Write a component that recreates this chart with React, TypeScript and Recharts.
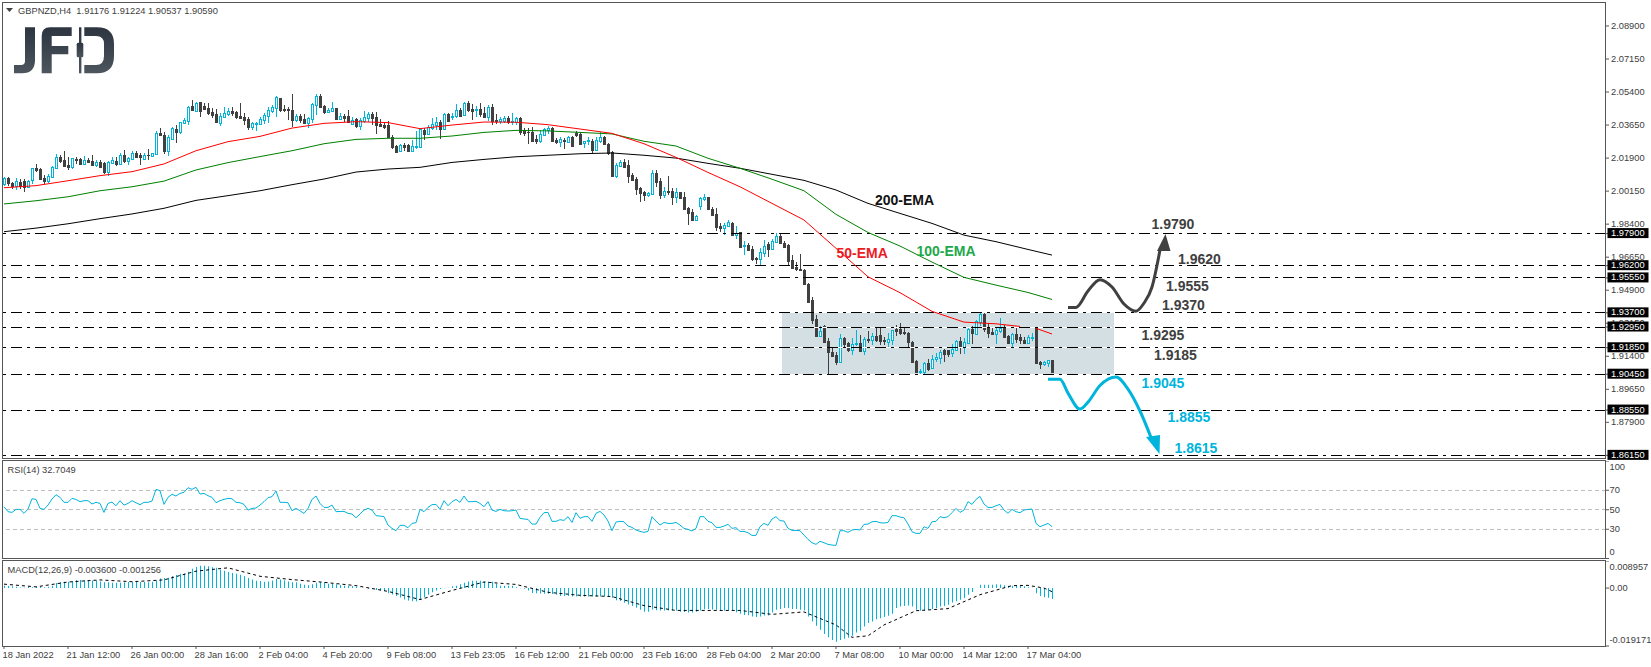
import { ComposedChart, Bar, Line, XAxis, YAxis, ReferenceLine, ReferenceArea } from "recharts";

const opens = [
  2.0051,2.0086,2.0058,2.0042,2.0065,2.0070,2.0038,2.0072,2.0137,2.0134,
  2.0082,2.0068,2.0090,2.0139,2.0196,2.0178,2.0153,2.0144,2.0187,2.0187,
  2.0159,2.0180,2.0173,2.0153,2.0169,2.0162,2.0118,2.0166,2.0176,2.0159,
  2.0206,2.0175,2.0185,2.0217,2.0205,2.0183,2.0208,2.0203,2.0213,2.0321,
  2.0312,2.0228,2.0291,2.0344,2.0328,2.0378,2.0388,2.0466,2.0441,2.0487,
  2.0466,2.0455,2.0434,2.0422,2.0378,2.0406,2.0424,2.0440,2.0434,2.0411,
  2.0408,2.0397,2.0355,2.0374,2.0371,2.0394,2.0415,2.0438,2.0455,2.0507,
  2.0448,2.0448,2.0443,2.0392,2.0415,2.0395,2.0374,2.0399,2.0471,2.0521,
  2.0466,2.0436,2.0440,2.0455,2.0399,2.0413,2.0413,2.0371,2.0397,2.0362,
  2.0385,2.0402,2.0426,2.0408,2.0371,2.0364,2.0365,2.0300,2.0256,2.0228,
  2.0259,2.0259,2.0226,2.0251,2.0251,2.0339,2.0316,2.0351,2.0365,2.0379,
  2.0342,2.0424,2.0406,2.0413,2.0445,2.0420,2.0480,2.0450,2.0445,2.0450,
  2.0431,2.0408,2.0461,2.0390,2.0388,2.0388,2.0404,2.0385,2.0383,2.0402,
  2.0335,2.0330,2.0330,2.0289,2.0280,2.0312,2.0339,2.0348,2.0286,2.0275,
  2.0286,2.0277,2.0302,2.0321,2.0318,2.0268,2.0279,2.0282,2.0233,2.0282,
  2.0302,2.0266,2.0222,2.0095,2.0150,2.0169,2.0153,2.0100,2.0077,2.0031,
  2.0010,1.9996,2.0000,2.0109,2.0067,1.9994,2.0014,2.0014,1.9985,2.0008,
  1.9985,1.9925,1.9906,1.9862,1.9936,1.9975,1.9984,1.9918,1.9894,1.9830,
  1.9819,1.9830,1.9848,1.9782,1.9796,1.9722,1.9731,1.9706,1.9662,1.9657,
  1.9689,1.9734,1.9708,1.9743,1.9777,1.9742,1.9729,1.9650,1.9611,1.9604,
  1.9597,1.9524,1.9436,1.9335,1.9249,1.9302,1.9222,1.9164,1.9146,1.9111,
  1.9235,1.9208,1.9175,1.9205,1.9208,1.9170,1.9231,1.9228,1.9249,1.9252,
  1.9226,1.9217,1.9228,1.9286,1.9286,1.9268,1.9261,1.9215,1.9114,1.9061,
  1.9058,1.9102,1.9079,1.9128,1.9130,1.9171,1.9171,1.9155,1.9173,1.9221,
  1.9189,1.9212,1.9284,1.9259,1.9323,1.9363,1.9291,1.9268,1.9259,1.9274,
  1.9295,1.9249,1.9210,1.9258,1.9240,1.9226,1.9212,1.9236,1.9291,1.9109,
  1.9100,1.9106,1.91176,
];

const highs = [
  2.0091,2.0091,2.0065,2.0086,2.0077,2.0079,2.0074,2.0139,2.0159,2.0136,
  2.0100,2.0106,2.0150,2.0212,2.0206,2.0228,2.0198,2.0192,2.0198,2.0192,
  2.0201,2.0189,2.0205,2.0180,2.0180,2.0167,2.0176,2.0198,2.0198,2.0215,
  2.0233,2.0198,2.0228,2.0229,2.0215,2.0219,2.0238,2.0219,2.0335,2.0348,
  2.0330,2.0312,2.0357,2.0365,2.0383,2.0401,2.0466,2.0498,2.0489,2.0489,
  2.0484,2.0480,2.0454,2.0448,2.0427,2.0459,2.0454,2.0459,2.0441,2.0480,
  2.0427,2.0410,2.0383,2.0383,2.0410,2.0431,2.0459,2.0471,2.0519,2.0510,
  2.0471,2.0463,2.0528,2.0424,2.0424,2.0424,2.0410,2.0480,2.0528,2.0530,
  2.0471,2.0454,2.0486,2.0457,2.0431,2.0424,2.0445,2.0410,2.0404,2.0401,
  2.0440,2.0436,2.0433,2.0436,2.0399,2.0378,2.0385,2.0311,2.0259,2.0265,
  2.0268,2.0265,2.0286,2.0335,2.0348,2.0351,2.0365,2.0404,2.0406,2.0392,
  2.0427,2.0427,2.0427,2.0477,2.0454,2.0487,2.0493,2.0477,2.0466,2.0480,
  2.0463,2.0471,2.0477,2.0424,2.0410,2.0413,2.0413,2.0427,2.0410,2.0410,
  2.0348,2.0348,2.0353,2.0312,2.0339,2.0348,2.0360,2.0353,2.0295,2.0304,
  2.0295,2.0307,2.0307,2.0335,2.0330,2.0282,2.0300,2.0289,2.0300,2.0330,
  2.0307,2.0272,2.0226,2.0162,2.0180,2.0183,2.0180,2.0109,2.0091,2.0038,
  2.0017,2.0012,2.0127,2.0127,2.0083,2.0035,2.0095,2.0030,2.0030,2.0012,
  2.0008,1.9932,1.9918,1.9888,1.9982,1.9999,1.9985,1.9929,1.9924,1.9844,
  1.9844,1.9862,1.9853,1.9830,1.9800,1.9750,1.9738,1.9724,1.9667,1.9711,
  1.9756,1.9745,1.9759,1.9791,1.9791,1.9752,1.9734,1.9676,1.9641,1.9680,
  1.9600,1.9526,1.9455,1.9358,1.9302,1.9305,1.9235,1.9185,1.9164,1.9258,
  1.9240,1.9217,1.9235,1.9279,1.9252,1.9243,1.9274,1.9261,1.9291,1.9291,
  1.9240,1.9263,1.9280,1.9305,1.9314,1.9291,1.9267,1.9220,1.9120,1.9072,
  1.9111,1.9128,1.9146,1.9155,1.9173,1.9181,1.9173,1.9206,1.9226,1.9243,
  1.9235,1.9291,1.9302,1.9330,1.9369,1.9369,1.9314,1.9293,1.9288,1.9341,
  1.9305,1.9252,1.9261,1.9288,1.9256,1.9243,1.9252,1.9265,1.9293,1.9114,
  1.9114,1.9120,1.91224,
];

const lows = [
  2.0045,2.0045,2.0030,2.0024,2.0024,2.0012,2.0030,2.0054,2.0118,2.0074,
  2.0053,2.0056,2.0086,2.0136,2.0162,2.0141,2.0127,2.0136,2.0162,2.0153,
  2.0153,2.0162,2.0148,2.0144,2.0136,2.0106,2.0095,2.0162,2.0148,2.0153,
  2.0162,2.0153,2.0180,2.0192,2.0153,2.0180,2.0180,2.0201,2.0210,2.0304,
  2.0215,2.0203,2.0286,2.0268,2.0321,2.0371,2.0365,2.0440,2.0436,2.0410,
  2.0445,2.0418,2.0401,2.0379,2.0360,2.0401,2.0410,2.0413,2.0401,2.0395,
  2.0365,2.0342,2.0342,2.0335,2.0365,2.0372,2.0374,2.0431,2.0406,2.0436,
  2.0436,2.0392,2.0353,2.0383,2.0374,2.0374,2.0353,2.0374,2.0418,2.0454,
  2.0422,2.0433,2.0436,2.0395,2.0392,2.0383,2.0374,2.0365,2.0353,2.0335,
  2.0378,2.0383,2.0365,2.0318,2.0357,2.0344,2.0295,2.0236,2.0219,2.0222,
  2.0228,2.0222,2.0222,2.0238,2.0242,2.0289,2.0312,2.0339,2.0339,2.0293,
  2.0339,2.0383,2.0388,2.0404,2.0410,2.0415,2.0436,2.0392,2.0406,2.0406,
  2.0406,2.0388,2.0365,2.0371,2.0374,2.0374,2.0371,2.0364,2.0365,2.0312,
  2.0304,2.0265,2.0277,2.0263,2.0268,2.0307,2.0318,2.0272,2.0265,2.0251,
  2.0238,2.0272,2.0251,2.0304,2.0263,2.0247,2.0259,2.0215,2.0224,2.0272,
  2.0259,2.0206,2.0088,2.0084,2.0141,2.0141,2.0056,2.0070,1.9994,1.9959,
  1.9964,1.9985,1.9994,2.0035,1.9973,1.9976,1.9994,1.9941,1.9950,1.9976,
  1.9915,1.9835,1.9858,1.9856,1.9915,1.9964,1.9915,1.9883,1.9800,1.9795,
  1.9779,1.9823,1.9777,1.9759,1.9717,1.9676,1.9699,1.9646,1.9628,1.9618,
  1.9664,1.9667,1.9703,1.9738,1.9731,1.9715,1.9618,1.9600,1.9593,1.9588,
  1.9517,1.9420,1.9314,1.9240,1.9243,1.9212,1.9043,1.9137,1.9097,1.9107,
  1.9182,1.9164,1.9143,1.9196,1.9164,1.9146,1.9212,1.9196,1.9217,1.9203,
  1.9199,1.9190,1.9199,1.9249,1.9249,1.9252,1.9182,1.9102,1.9049,1.9040,
  1.9049,1.9067,1.9072,1.9107,1.9097,1.9114,1.9137,1.9137,1.9171,1.9155,
  1.9150,1.9206,1.9208,1.9256,1.9302,1.9270,1.9235,1.9249,1.9205,1.9261,
  1.9235,1.9208,1.9182,1.9208,1.9205,1.9205,1.9208,1.9224,1.9097,1.9072,
  1.9088,1.9084,1.90537,
];

const closes = [
  2.0086,2.0056,2.0042,2.0068,2.0042,2.0035,2.0068,2.0136,2.0127,2.0079,
  2.0068,2.0095,2.0143,2.0194,2.0175,2.0148,2.0144,2.0189,2.0180,2.0160,
  2.0178,2.0169,2.0155,2.0169,2.0141,2.0114,2.0167,2.0180,2.0159,2.0206,
  2.0173,2.0191,2.0217,2.0198,2.0198,2.0206,2.0205,2.0215,2.0323,2.0314,
  2.0228,2.0302,2.0350,2.0328,2.0379,2.0392,2.0463,2.0445,2.0484,2.0440,
  2.0452,2.0427,2.0420,2.0381,2.0413,2.0431,2.0440,2.0431,2.0406,2.0402,
  2.0392,2.0353,2.0374,2.0378,2.0395,2.0418,2.0443,2.0459,2.0514,2.0445,
  2.0443,2.0445,2.0394,2.0413,2.0392,2.0378,2.0401,2.0475,2.0519,2.0459,
  2.0434,2.0447,2.0454,2.0399,2.0411,2.0402,2.0379,2.0392,2.0360,2.0390,
  2.0406,2.0424,2.0402,2.0365,2.0362,2.0353,2.0300,2.0247,2.0224,2.0259,
  2.0251,2.0228,2.0254,2.0256,2.0344,2.0316,2.0353,2.0371,2.0381,2.0344,
  2.0424,2.0388,2.0413,2.0443,2.0413,2.0482,2.0445,2.0441,2.0448,2.0424,
  2.0410,2.0461,2.0385,2.0387,2.0395,2.0404,2.0383,2.0388,2.0402,2.0330,
  2.0325,2.0326,2.0282,2.0280,2.0318,2.0342,2.0349,2.0280,2.0275,2.0289,
  2.0279,2.0302,2.0256,2.0314,2.0266,2.0279,2.0286,2.0235,2.0288,2.0302,
  2.0266,2.0215,2.0095,2.0152,2.0169,2.0144,2.0095,2.0074,2.0028,2.0005,
  1.9994,2.0005,2.0111,2.0065,1.9994,2.0014,2.0010,1.9985,2.0010,1.9980,
  1.9918,1.9901,1.9862,1.9883,1.9978,1.9985,1.9918,1.9890,1.9826,1.9821,
  1.9833,1.9851,1.9784,1.9793,1.9720,1.9727,1.9703,1.9653,1.9657,1.9690,
  1.9726,1.9708,1.9749,1.9777,1.9738,1.9720,1.9644,1.9606,1.9602,1.9597,
  1.9523,1.9429,1.9332,1.9249,1.9274,1.9217,1.9164,1.9143,1.9111,1.9235,
  1.9205,1.9175,1.9205,1.9208,1.9170,1.9229,1.9226,1.9249,1.9224,1.9222,
  1.9219,1.9229,1.9277,1.9275,1.9263,1.9263,1.9214,1.9111,1.9058,1.9063,
  1.9102,1.9075,1.9128,1.9135,1.9165,1.9150,1.9153,1.9180,1.9221,1.9187,
  1.9215,1.9284,1.9263,1.9326,1.9363,1.9284,1.9261,1.9258,1.9277,1.9288,
  1.9242,1.9212,1.9256,1.9233,1.9228,1.9212,1.9242,1.9240,1.9102,1.9100,
  1.9107,1.9118,1.90590,
];

// EMAs
const emaBars = [
  0,8,16,24,32,40,48,56,64,72,80,88,96,104,112,120,128,136,144,152,160,168,176,184,192,200,208,216,224,232,240,248,
];
const ema50 = [
  2.0033,2.0044,2.0070,2.0097,2.0118,2.0159,2.0229,2.0277,2.0305,2.0349,2.0374,2.0383,2.0378,2.0346,2.0365,2.0381,
  2.0380,2.0367,2.0344,2.0321,2.0266,2.0194,2.0114,2.0038,1.9950,1.9862,1.9712,1.9561,1.9477,1.9378,1.9321,1.9312,
];
const ema50EndBars = [248, 254];
const ema50End = [1.9312, 1.9298];
const ema50TailBars = [258, 262];
const ema50Tail = [1.9288, 1.9258];
const ema100 = [
  1.9947,1.9964,1.9985,2.0017,2.0038,2.0068,2.0127,2.0166,2.0198,2.0229,2.0266,2.0289,2.0295,2.0295,2.0307,2.0326,
  2.0337,2.0334,2.0326,2.0318,2.0279,2.0254,2.0189,2.0136,2.0078,2.0017,1.9892,1.9796,1.9724,1.9639,1.9558,1.9517,
];
const ema200 = [
  1.9800,1.9819,1.9842,1.9869,1.9894,1.9924,1.9966,1.9991,2.0017,2.0049,2.0079,2.0116,2.0132,2.0141,2.0167,2.0183,
  2.0197,2.0205,2.0213,2.0217,2.0205,2.0190,2.0162,2.0136,2.0104,2.0072,2.0021,1.9950,1.9897,1.9844,1.9782,1.9747,
];
const emaLastBars = [256, 262];
const ema100Last = [1.9478, 1.9441];
const ema200Last = [1.9706, 1.9676];

const rsi = [
  53.1,48,47.3,50.4,50.4,46.3,50.7,61.3,60.6,51.4,
  50.4,54.8,61,65.4,62.7,57.6,57.6,61.7,60.6,58.3,
  59.3,59.3,55.9,57.6,56.5,47.3,56.5,57.9,54.1,59.3,
  54.8,56.5,59.3,57.2,55.2,57.6,57.6,58.9,70.9,69.5,
  55.5,62.7,65.8,64.1,66.8,67.8,72.6,70.9,73,66.1,
  66.8,64.4,62.7,57.2,59.3,60.6,61.7,61.3,57.6,57.2,
  55.5,49.7,51.4,51.8,54.8,58.3,62.4,63.4,69.2,57.6,
  57.6,57.2,49,51.4,49,46.3,51.4,60.6,64.1,56.5,
  52.4,52.4,54.8,48,48.3,48.3,46.3,45.6,41.8,45.6,
  49.7,51.4,49.7,43.9,43.5,42.9,34.3,30.9,28.5,34,
  34,31.6,36,36.7,50.4,48,52.4,55.2,55.5,50.4,
  59.3,54.1,58.3,60.6,57.6,64.1,58.3,58.3,58.6,56.5,
  53.1,58.3,49.7,48.3,50.4,49,48.7,49,49.7,41.2,
  40.5,40.1,35.3,35.3,42.2,47,47.3,38.1,38.1,39.8,
  39.1,42.9,37,47,41.2,42.9,42.9,38.1,46.3,48.3,
  44.6,38.4,28.5,37.4,38.1,37.7,33.3,31.9,29.2,27.8,
  26.8,27.8,42.9,38.4,34.3,37,36,36,37,34.3,
  30.9,29.9,28.2,30.9,42.9,42.9,38.1,36.7,31.9,31.9,
  33.3,35,30.9,31.6,27.8,27.8,26.4,23.7,23.7,32.6,
  36,34,40.5,42.9,38.8,38.4,30.9,28.8,28.8,28.5,
  24,19.6,16.2,14.5,17.6,16.2,14.5,13.8,13.4,28.5,
  28.5,26.8,29.2,29.9,29.2,35,35.3,37.7,38.1,36.7,
  36.4,37,43.9,43.9,42.5,41.8,35.3,27.5,25.8,25.8,
  32.6,30.9,37.7,38.1,42.9,41.8,42.9,47,51.4,47.3,
  49.7,58.3,55.5,60.6,63.7,55.9,52.4,52.4,54.1,55.5,
  49.7,46.3,50.4,48,47,49.7,50.4,50.7,36,32.6,
  34.3,36,32.7,
];

const macdHist = [
  .0008,.0007,.0006,.0004,.0002,.0001,.0004,.0003,.0004,.0004,.0003,.0004,.0008,
  .0017,.0020,.0021,.0021,.0023,.0027,.0027,.0027,.0025,.0025,
  .0025,.0022,.0019,.0019,.0018,.0018,.0018,.0019,.0020,.0020,
  .0020,.0020,.0020,.0019,.0021,.0025,.0032,.0033,.0034,.0040,
  .0043,.0047,.0048,.0054,.0064,.0070,.0074,.0074,.0072,.0069,
  .0067,.0061,.0057,.0053,.0050,.0047,.0044,.0039,.0033,.0028,
  .0024,.0023,.0021,.0022,.0025,.0030,.0028,.0025,.0022,.0019,
  .0019,.0014,.0011,.0009,.0013,.0018,.0019,.0019,.0014,.0014,
  .0013,.0010,.0008,.0008,.0007,.0004,.0001,0,
  -.0002,-.0003,-.0006,-.0008,-.0010,-.0017,-.0021,-.0026,-.0031,-.0038,
  -.0041,-.0044,-.0044,-.0039,-.0030,-.0022,-.0014,-.0008,-.0003,-.0001,
  .0001,.0006,.0008,.0013,.0018,.0022,.0024,.0024,.0024,.0022,.0021,.0021,.0014,
  .0008,.0008,.0008,.0008,.0003,-.0001,
  -.0002,-.0008,-.0016,-.0017,-.0018,-.0019,-.0019,-.0020,-.0022,-.0026,
  -.0026,-.0026,-.0028,-.0028,-.0028,-.0028,-.0028,-.0028,-.0028,-.0028,
  -.0028,-.0029,-.0032,-.0040,-.0043,-.0049,-.0054,-.0059,-.0065,-.0072,
  -.0078,-.0078,-.0071,-.0073,-.0074,-.0074,-.0074,-.0074,-.0074,-.0078,
  -.0079,-.0081,-.0081,-.0078,-.0074,-.0070,-.0069,-.0071,-.0072,-.0074,
  -.0075,-.0074,-.0074,-.0080,-.0085,-.0089,-.0090,-.0094,-.0096,-.0094,
  -.0091,-.0091,-.0081,-.0072,-.0069,-.0066,-.0066,-.0069,-.0069,-.0072,
  -.0074,-.0094,-.0111,-.0125,-.0138,-.0152,-.0163,-.0172,-.0178,-.0172,
  -.0168,-.0164,-.0158,-.0147,-.0141,-.0127,-.0116,-.0111,-.0103,-.0100,
  -.0096,-.0092,-.0085,-.0066,-.0061,-.0059,-.0058,-.0061,-.0072,-.0075,
  -.0074,-.0072,-.0069,-.0066,-.0061,-.0059,-.0055,-.0048,-.0044,-.0039,
  -.0033,-.0022,-.0013,0,.0011,.0011,.0011,.0011,.0013,.0012,
  .0009,.0008,.0008,.0008,.0007,.0006,.0003,.0001,-.0017,-.0026,
  -.0030,-.0032,-.0036,
];

const signalBars = [
  0,8,16,24,32,40,48,56,64,72,80,88,96,104,112,120,128,136,144,152,160,168,176,184,192,200,208,212,216,220,228,236,244,252,256,260,262,
];
const macdSignal = [
  .0013,.0004,.0020,.0027,.0021,.0027,.0056,.0067,.0039,.0028,.0019,.0008,-.0011,-.0038,-.0008,.0020,
  .0012,-.0014,-.0024,-.0028,-.0058,-.0074,-.0074,-.0074,-.0087,-.0079,-.0122,-.0163,-.0158,-.0122,
  -.0075,-.0068,-.0022,.0008,.0009,0,-.0012,
];

// hand drawn scenario arrows
const upArrowBars = [266, 268, 271, 274, 277, 280, 283, 285, 287, 289];
const upArrow = [1.9399, 1.9399, 1.9486, 1.9546, 1.9507, 1.9417, 1.9379, 1.9422, 1.9507, 1.9703];
const downArrowBars = [261, 264, 266, 269, 271, 274, 278, 281, 284, 287];
const downArrow = [1.9018, 1.9018, 1.8945, 1.8860, 1.8897, 1.8985, 1.9030, 1.8966, 1.8850, 1.8696];

const levels = [1.979, 1.962, 1.9555, 1.937, 1.9295, 1.9185, 1.9045, 1.8855, 1.8615];
const priceTicks = [
  2.089, 2.0715, 2.054, 2.0365, 2.019, 2.0015, 1.984, 1.9665, 1.949, 1.9315, 1.914, 1.8965, 1.879,
];
const rsiTicks = [100, 70, 50, 30, 0];
const rsiGuides = [70, 50, 30];
const macdTicks = [0.008957, 0, -0.019171];
const macdLabels = ["0.008957", "0.00", "-0.019171"];
const timeBars = [0, 16, 32, 48, 64, 80, 96, 112, 128, 144, 160, 176, 192, 208, 224, 240, 256];
const timeLabels = [
  "18 Jan 2022", "21 Jan 12:00", "26 Jan 00:00", "28 Jan 16:00", "2 Feb 04:00", "4 Feb 20:00",
  "9 Feb 08:00", "13 Feb 23:05", "16 Feb 12:00", "21 Feb 00:00", "23 Feb 16:00", "28 Feb 04:00",
  "2 Mar 20:00", "7 Mar 08:00", "10 Mar 00:00", "14 Mar 12:00", "17 Mar 04:00",
];

const BAR_SLOTS = 401;
const BLUE = "#00b4dc";
const DARK = "#404040";
const AXIS = "#555555";
const FONT = "'Liberation Sans', Arial, sans-serif";

function pick(bars: number[], values: number[], i: number) {
  const at = bars.indexOf(i);
  return at < 0 ? null : values[at];
}

const rows = Array.from({ length: BAR_SLOTS }, (_, i) => ({
  i,
  open: opens[i] ?? null,
  high: highs[i] ?? null,
  low: lows[i] ?? null,
  close: closes[i] ?? null,
  range: i < opens.length ? [lows[i], highs[i]] : null,
  ema50: pick(emaBars, ema50, i) ?? pick(ema50EndBars, ema50End, i),
  ema50Tail: pick(ema50TailBars, ema50Tail, i),
  ema100: pick(emaBars, ema100, i) ?? pick(emaLastBars, ema100Last, i),
  ema200: pick(emaBars, ema200, i) ?? pick(emaLastBars, ema200Last, i),
  rsi: rsi[i] ?? null,
  hist: macdHist[i] ?? null,
  signal: pick(signalBars, macdSignal, i),
  up: pick(upArrowBars, upArrow, i),
  down: pick(downArrowBars, downArrow, i),
}));

function Candle(props: any) {
  const { x, y, width, height, payload } = props;
  if (!payload || payload.open == null) return null;
  const { open, close, high, low } = payload;
  const span = high - low || 1;
  const toY = (v: number) => Math.round(y + ((high - v) / span) * height);
  const bull = close >= open;
  const color = bull ? BLUE : DARK;
  const left = Math.round(x);
  const top = toY(Math.max(open, close));
  const bottom = toY(Math.min(open, close));
  return (
    <g shapeRendering="crispEdges">
      <rect x={left + 1} y={Math.round(y)} width={1} height={Math.max(1, Math.round(height))} fill={color} />
      {bull ? (
        <rect x={left + 0.5} y={top + 0.5} width={2} height={Math.max(1, bottom - top)} fill="#fff" stroke={color} strokeWidth={1} />
      ) : (
        <rect x={left} y={top} width={3} height={Math.max(1, bottom - top + 1)} fill={color} />
      )}
    </g>
  );
}

function PriceTick(props: any) {
  const { x, y, payload } = props;
  const boxed = levels.includes(payload.value);
  const label = payload.value.toFixed(5);
  if (boxed) {
    return (
      <g>
        <rect x={x - 3.5} y={y - 5.5} width={41} height={10} fill="#000" />
        <text x={x} y={y - 0.5} fontSize={9.3} fontFamily={FONT} fill="#fff" dominantBaseline="central">{label}</text>
      </g>
    );
  }
  return (
    <text x={x} y={y} fontSize={9.3} fontFamily={FONT} fill={DARK} dominantBaseline="central">{label}</text>
  );
}

function RsiTick(props: any) {
  const { x, y, payload } = props;
  const shift = payload.value === 100 ? 6 : payload.value === 0 ? -7 : 0;
  return (
    <text x={x - 1.5} y={y + shift} fontSize={9.3} fontFamily={FONT} fill={DARK} dominantBaseline="central">{payload.value}</text>
  );
}

function MacdTick(props: any) {
  const { x, y, index } = props;
  const shift = index === 0 ? 6 : index === 2 ? -6 : 0;
  return (
    <text x={x - 1.5} y={y + shift} fontSize={9.3} fontFamily={FONT} fill={DARK} dominantBaseline="central">{macdLabels[index]}</text>
  );
}

function TimeTick(props: any) {
  const { x, payload } = props;
  const at = timeBars.indexOf(payload.value);
  return (
    <text x={x - 1.5} y={655} dy={-561} fontSize={9.3} fontFamily={FONT} fill={DARK} dominantBaseline="central">{timeLabels[at]}</text>
  );
}

function UpHead(props: any) {
  const { cx, cy, payload } = props;
  if (payload.i !== upArrowBars[upArrowBars.length - 1]) return <g key={payload.i} />;
  return <polygon key={payload.i} points={`${cx + 5.5},${cy - 16} ${cx - 3},${cy + 1} ${cx + 10.5},${cy + 1}`} fill={DARK} />;
}

function DownHead(props: any) {
  const { cx, cy, payload } = props;
  if (payload.i !== downArrowBars[downArrowBars.length - 1]) return <g key={payload.i} />;
  return <polygon key={payload.i} points={`${cx + 7.5},${cy + 14} ${cx - 6},${cy - 3} ${cx + 8},${cy - 5}`} fill={BLUE} />;
}

function Logo() {
  return (
    <svg width={120} height={60} viewBox="10 20 120 60" style={{ position: "absolute", left: 10, top: 20 }}>
      <defs>
        <linearGradient id="logoFill" x1="0" y1="0" x2="0" y2="1">
          <stop offset="0%" stopColor="#2c3540" />
          <stop offset="100%" stopColor="#4d555e" />
        </linearGradient>
      </defs>
      <g fill="url(#logoFill)">
        <path d="M25 27.3H35V60Q35 73.3 22 73.3H14V65H21Q25 65 25 61Z" />
        <path d="M41.7 36Q41.7 27.3 50 27.3H71.7V36H51.7V46H68.3V54.3H51.7V73.3H41.7Z" />
        <rect x="79" y="27.3" width="2.4" height="46" />
        <rect x="76.7" y="42.7" width="6.6" height="14.6" rx="1.5" />
        <path d="M84.3 27.3H97Q114 27.3 114 44V56Q114 73.3 97 73.3H84.3V65H96Q104 65 104 56V44Q104 36 96 36H84.3Z" />
      </g>
    </svg>
  );
}

const callouts = [
  { text: "200-EMA", left: 875, top: 200, color: "#111111" },
  { text: "50-EMA", left: 836.5, top: 252.5, color: "#ed1c24" },
  { text: "100-EMA", left: 916.5, top: 251, color: "#22a84a" },
  { text: "1.9790", left: 1151.5, top: 224, color: DARK },
  { text: "1.9620", left: 1178, top: 258.5, color: DARK },
  { text: "1.9555", left: 1166, top: 286, color: DARK },
  { text: "1.9370", left: 1162, top: 305, color: DARK },
  { text: "1.9295", left: 1141.5, top: 335, color: DARK },
  { text: "1.9185", left: 1154, top: 355, color: DARK },
  { text: "1.9045", left: 1141.5, top: 383, color: BLUE },
  { text: "1.8855", left: 1167.5, top: 417, color: BLUE },
  { text: "1.8615", left: 1174.5, top: 448, color: BLUE },
];

const plain: React.CSSProperties = {
  position: "absolute",
  fontFamily: FONT,
  fontSize: 9.3,
  color: DARK,
  whiteSpace: "pre",
  lineHeight: "12px",
};

function Panel({ top, height }: { top: number; height: number }) {
  return (
    <div
      style={{
        position: "absolute",
        left: 2,
        top,
        width: 1604,
        height,
        boxSizing: "border-box",
        border: `1px solid ${AXIS}`,
        pointerEvents: "none",
      }}
    />
  );
}

export default function App() {
  return (
    <div style={{ position: "fixed", left: 0, top: 0, width: 1651, height: 667, background: "#fff", overflow: "hidden" }}>
      <Logo />

      <div style={{ position: "absolute", left: 1.5, top: 2 }}>
        <ComposedChart width={1649.5} height={466} data={rows} margin={{ top: 0, right: 0, bottom: 10, left: 0 }}>
          <XAxis dataKey="i" type="category" scale="band" hide />
          <YAxis
            orientation="right"
            width={45.5}
            domain={[1.8601, 2.1017]}
            allowDataOverflow
            ticks={[...priceTicks, ...levels]}
            interval={0}
            axisLine={false}
            tickLine={{ stroke: AXIS }}
            tickSize={3}
            tick={PriceTick}
          />
          <ReferenceArea x1={195} x2={277} y1={1.9045} y2={1.937} fill="#d3dfe2" fillOpacity={1} stroke="none" />
          {levels
            .filter((v) => v <= 1.937 && v >= 1.9045)
            .map((v) => (
              <ReferenceLine
                key={`w${v}`}
                segment={[{ x: 195, y: v }, { x: 277, y: v }]}
                stroke="#fff"
                shapeRendering="crispEdges"
              />
            ))}
          {levels.map((v) => (
            <ReferenceLine key={v} y={v} stroke="#000" strokeDasharray="11 5 3 5" shapeRendering="crispEdges" />
          ))}
          <Line dataKey="ema200" stroke="#000" strokeWidth={1} dot={false} connectNulls isAnimationActive={false} />
          <Line dataKey="ema100" stroke="#008000" strokeWidth={1} dot={false} connectNulls isAnimationActive={false} />
          <Line dataKey="ema50" stroke="#ff0000" strokeWidth={1} dot={false} connectNulls isAnimationActive={false} />
          <Line dataKey="ema50Tail" stroke="#ff0000" strokeWidth={1} dot={false} connectNulls isAnimationActive={false} />
          <Bar dataKey="range" barSize={3} shape={Candle} isAnimationActive={false} />
          <Line dataKey="up" type="monotone" stroke={DARK} strokeWidth={3} dot={UpHead} connectNulls isAnimationActive={false} />
          <Line dataKey="down" type="monotone" stroke={BLUE} strokeWidth={3} dot={DownHead} connectNulls isAnimationActive={false} />
        </ComposedChart>
      </div>

      <div style={{ position: "absolute", left: 1.5, top: 461 }}>
        <ComposedChart width={1649.5} height={97.5} data={rows} margin={{ top: 0, right: 0, bottom: 0, left: 0 }}>
          <XAxis dataKey="i" type="category" scale="band" hide />
          <YAxis
            orientation="right"
            width={45.5}
            domain={[0, 100]}
            ticks={rsiTicks}
            interval={0}
            axisLine={false}
            tickLine={{ stroke: AXIS }}
            tickSize={3}
            tick={RsiTick}
          />
          {rsiGuides.map((v) => (
            <ReferenceLine key={v} y={v} stroke="#c0c0c0" strokeDasharray="4 3" shapeRendering="crispEdges" />
          ))}
          <Line dataKey="rsi" stroke={BLUE} strokeWidth={1} dot={false} isAnimationActive={false} />
        </ComposedChart>
      </div>

      <div style={{ position: "absolute", left: 1.5, top: 561 }}>
        <ComposedChart width={1649.5} height={106} data={rows} margin={{ top: 0, right: 0, bottom: 0, left: 0 }}>
          <XAxis
            dataKey="i"
            type="category"
            scale="band"
            height={21}
            ticks={timeBars}
            interval={0}
            axisLine={false}
            tickLine={{ stroke: AXIS }}
            tickSize={3}
            tick={TimeTick}
          />
          <YAxis
            orientation="right"
            width={45.5}
            domain={[-0.019171, 0.008957]}
            ticks={macdTicks}
            interval={0}
            axisLine={false}
            tickLine={{ stroke: AXIS }}
            tickSize={3}
            tick={MacdTick}
          />
          <Bar dataKey="hist" barSize={1} fill={BLUE} isAnimationActive={false} />
          <Line dataKey="signal" stroke="#000" strokeWidth={1} strokeDasharray="3 3" dot={false} connectNulls isAnimationActive={false} />
        </ComposedChart>
      </div>

      <Panel top={2} height={457} />
      <Panel top={460} height={99} />
      <Panel top={560} height={87} />

      <svg width={8} height={6} style={{ position: "absolute", left: 6, top: 8 }}>
        <polygon points="0,0 7,0 3.5,4" fill={DARK} />
      </svg>
      <div style={{ ...plain, left: 18, top: 5 }}>{"GBPNZD,H4  1.91176 1.91224 1.90537 1.90590"}</div>
      <div style={{ ...plain, left: 7.5, top: 463.5 }}>RSI(14) 32.7049</div>
      <div style={{ ...plain, left: 7.5, top: 564 }}>MACD(12,26,9) -0.003600 -0.001256</div>

      {callouts.map((c) => (
        <div
          key={c.text}
          style={{
            position: "absolute",
            left: c.left,
            top: c.top - 9,
            lineHeight: "18px",
            fontFamily: FONT,
            fontWeight: 700,
            fontSize: 14,
            color: c.color,
          }}
        >
          {c.text}
        </div>
      ))}
    </div>
  );
}
